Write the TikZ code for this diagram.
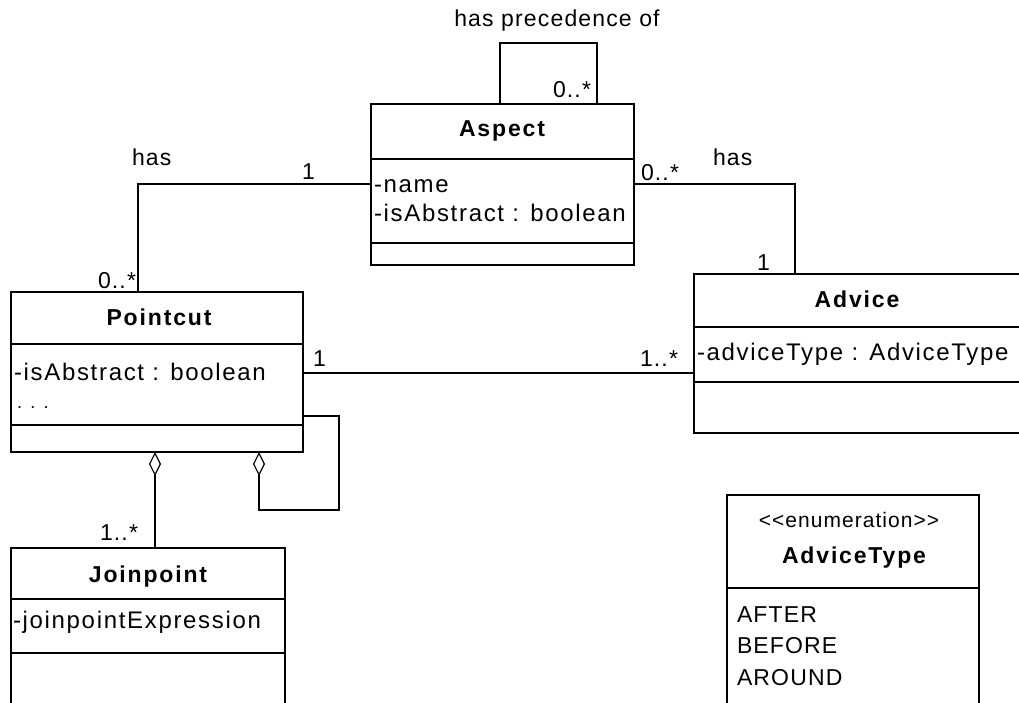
\documentclass[tikz,border=0pt]{standalone}
\usepackage{fontspec}
\setmainfont{Liberation Sans}[LetterSpace=5]
\newfontfamily\attrfont{Liberation Sans}[LetterSpace=7]
\newfontfamily\titlefont{Liberation Sans}[LetterSpace=8]
\usetikzlibrary{arrows.meta}
\begin{document}
\begin{tikzpicture}[x=1pt,y=-1pt,
  every node/.style={font=\fontsize{23}{27}\selectfont, inner sep=0pt, outer sep=0pt},
  classbox/.style={draw, line width=1.3pt, anchor=north west, minimum width=#1},
  sepline/.style={line width=1.3pt},
  assoc/.style={line width=1.2pt},
  attr/.style={anchor=base west, font=\attrfont\fontsize{24}{28}\selectfont},
  title/.style={anchor=base, font=\titlefont\fontsize{23}{27}\selectfont\bfseries},
  lbl/.style={anchor=base west},
  aggr/.style={line width=1.2pt, {Diamond[open,length=24pt,width=12pt,line width=1.2pt]}-}
]
\useasboundingbox (0,0) rectangle (1019,703);
\clip (0,0) rectangle (1019,703);

% class boxes
\node[classbox=263, minimum height=161] (aspect) at (371,104) {};
\node[classbox=292, minimum height=160] (pointcut) at (11,292) {};
\node[classbox=340, minimum height=159] (advice) at (694,274) {};
\node[classbox=274, minimum height=180] (joinpoint) at (11,548) {};
\node[classbox=252, minimum height=230] (advicetype) at (727,495) {};

% compartment separators
\draw[sepline] (aspect.west |- 0,159) -- (aspect.east |- 0,159);
\draw[sepline] (aspect.west |- 0,243) -- (aspect.east |- 0,243);
\draw[sepline] (pointcut.west |- 0,344) -- (pointcut.east |- 0,344);
\draw[sepline] (pointcut.west |- 0,425) -- (pointcut.east |- 0,425);
\draw[sepline] (advice.west |- 0,327) -- (advice.east |- 0,327);
\draw[sepline] (advice.west |- 0,382) -- (advice.east |- 0,382);
\draw[sepline] (joinpoint.west |- 0,599) -- (joinpoint.east |- 0,599);
\draw[sepline] (joinpoint.west |- 0,653) -- (joinpoint.east |- 0,653);
\draw[sepline] (advicetype.west |- 0,588) -- (advicetype.east |- 0,588);

% class contents
\node[title] (aspectT) at (502,137) {Aspect};
\node[attr] (aspectA1) at (374,193) {-name};
\node[attr] (aspectA2) at (374,222) {-isAbstract : boolean};

\node[title] (pointcutT) at (159,325) {Pointcut};
\node[attr] (pointcutA1) at (14,380) {-isAbstract : boolean};
\node[attr] (pointcutA2) at (17,408) {\fontsize{18}{20}\selectfont. . .};

\node[title] (adviceT) at (857,307) {Advice};
\node[attr] (adviceA1) at (697,360) {-adviceType : AdviceType};

\node[title] (joinpointT) at (148,582) {Joinpoint};
\node[attr] (joinpointA1) at (13,628) {-joinpointExpression};

\node[anchor=base, font=\fontsize{21}{24}\selectfont] (advicetypeS) at (849,527) {<{}<enumeration>{}>};
\node[title] (advicetypeT) at (854,563) {AdviceType};
\node[attr, font=\fontsize{23}{27}\selectfont] (lit1) at (737,622) {AFTER};
\node[attr, font=\fontsize{23}{27}\selectfont] (lit2) at (737,653) {BEFORE};
\node[attr, font=\fontsize{23}{27}\selectfont] (lit3) at (737,685) {AROUND};

% associations
\draw[assoc] (aspect.north -| 500,0) -- (500,43) -- (597,43) -- (aspect.north -| 597,0);
\draw[assoc] (pointcut.north -| 138,0) -- (138,184) -- (aspect.west |- 0,184);
\draw[assoc] (aspect.east |- 0,184) -- (795,184) -- (advice.north -| 795,0);
\draw[assoc] (pointcut.east |- 0,373) -- (advice.west |- 0,373);

% aggregations
\draw[aggr] (pointcut.south -| 155,0) -- (joinpoint.north -| 155,0);
\draw[aggr] (pointcut.south -| 259,0) -- (259,510) -- (339,510) -- (339,416) -- (pointcut.east |- 0,416);

% association labels
\node[anchor=base] (precL) at (557,27) {has precedence of};
\node[lbl] (precM) at (553,98) {0..*};
\node[lbl] (hasL) at (132,166) {has};
\node[lbl] (hasL1) at (302,180) {1};
\node[lbl] (hasL2) at (98,288) {0..*};
\node[lbl] (hasR) at (713,166) {has};
\node[lbl] (hasR1) at (641,181) {0..*};
\node[lbl] (hasR2) at (757,270) {1};
\node[lbl] (pa1) at (313,366) {1};
\node[lbl] (pa2) at (640,366) {1..*};
\node[lbl] (jp1) at (100,540) {1..*};
\end{tikzpicture}
\end{document}
